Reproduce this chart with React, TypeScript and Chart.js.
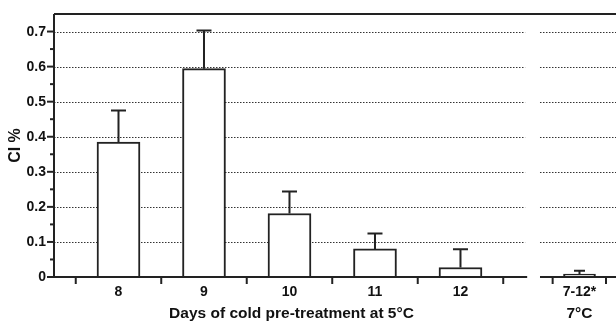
import React, { useEffect, useRef } from "react";
import { Chart, registerables } from "chart.js";

Chart.register(...registerables);

const categories = ["8", "9", "10", "11", "12"];
const values = [0.385, 0.594, 0.181, 0.08, 0.027];
const errors = [0.09, 0.109, 0.063, 0.044, 0.052];

const sideCategories = ["7-12*"];
const sideValues = [0.0085];
const sideErrors = [0.0095];

const yTicks = [0, 0.1, 0.2, 0.3, 0.4, 0.5, 0.6, 0.7];
const yTickLabels = ["0", "0.1", "0.2", "0.3", "0.4", "0.5", "0.6", "0.7"];
const yMinorTicks = [0.05, 0.15, 0.25, 0.35, 0.45, 0.55, 0.65];

const xTitle = "Days of cold pre-treatment at 5°C";
const sideTitle = "7°C";
const yTitle = "CI %";

// layout (positions on the linear x scale)
const X_MIN = 0.2456;
const X_MAX = 6.819;
const MAIN_AXIS_END = 5.78;
const SIDE_AXIS_START = 5.93;
const SIDE_POS = [6.392];
const SIDE_TICKS = [6.078, 6.702];

const INK = "#222";
const FONT = "'Liberation Sans', Arial, Helvetica, sans-serif";

export default function App() {
  const ref = useRef<HTMLCanvasElement>(null);

  useEffect(() => {
    document.body.style.margin = "0";
    const canvas = ref.current!;

    const customPlugin = {
      id: "custom",
      beforeDatasetsDraw(chart: any) {
        const { ctx, chartArea } = chart;
        const xs = chart.scales.x;
        const ys = chart.scales.y;
        ctx.save();
        ctx.strokeStyle = "#333";
        ctx.lineWidth = 1;
        ctx.setLineDash([1.5, 1.5]);
        const mainEnd = xs.getPixelForValue(MAIN_AXIS_END) - 2;
        const sideStart = xs.getPixelForValue(SIDE_AXIS_START);
        yTicks.forEach((v) => {
          if (v === 0) return;
          const y = Math.round(ys.getPixelForValue(v)) + 0.5;
          ctx.beginPath();
          ctx.moveTo(chartArea.left, y);
          ctx.lineTo(mainEnd, y);
          ctx.moveTo(sideStart, y);
          ctx.lineTo(chartArea.right, y);
          ctx.stroke();
        });
        ctx.restore();
      },
      afterDatasetsDraw(chart: any) {
        const { ctx, chartArea } = chart;
        const xs = chart.scales.x;
        const ys = chart.scales.y;
        ctx.save();
        ctx.strokeStyle = INK;
        ctx.lineWidth = 2;
        ctx.setLineDash([]);

        const drawErr = (x: number, v: number, e: number, cap: number) => {
          const px = xs.getPixelForValue(x);
          const y0 = ys.getPixelForValue(v);
          const y1 = ys.getPixelForValue(v + e);
          ctx.beginPath();
          ctx.moveTo(px, y0);
          ctx.lineTo(px, y1);
          ctx.moveTo(px - cap / 2, y1);
          ctx.lineTo(px + cap / 2, y1);
          ctx.stroke();
        };
        values.forEach((v, i) => drawErr(i + 1, v, errors[i], 15));
        sideValues.forEach((v, i) => drawErr(SIDE_POS[i], v, sideErrors[i], 11));

        const y0 = ys.getPixelForValue(0);
        const left = chartArea.left;
        ctx.beginPath();
        ctx.moveTo(left, chartArea.top);
        ctx.lineTo(chartArea.right, chartArea.top);
        ctx.stroke();
        ctx.beginPath();
        ctx.moveTo(left, chartArea.top);
        ctx.lineTo(left, y0 + 1);
        ctx.stroke();
        ctx.beginPath();
        ctx.moveTo(left - 7, y0);
        ctx.lineTo(xs.getPixelForValue(MAIN_AXIS_END), y0);
        ctx.moveTo(xs.getPixelForValue(SIDE_AXIS_START), y0);
        ctx.lineTo(chartArea.right, y0);
        ctx.stroke();

        yTicks.forEach((v) => {
          const y = ys.getPixelForValue(v);
          ctx.beginPath();
          ctx.moveTo(left - 7, y);
          ctx.lineTo(left, y);
          ctx.stroke();
        });
        yMinorTicks.forEach((v) => {
          const y = ys.getPixelForValue(v);
          ctx.beginPath();
          ctx.moveTo(left - 4, y);
          ctx.lineTo(left, y);
          ctx.stroke();
        });
        const xTickVals = [0.5, 1.5, 2.5, 3.5, 4.5, 5.5, ...SIDE_TICKS];
        xTickVals.forEach((v) => {
          const x = xs.getPixelForValue(v);
          ctx.beginPath();
          ctx.moveTo(x, y0);
          ctx.lineTo(x, y0 + 7);
          ctx.stroke();
        });

        ctx.fillStyle = "#111";
        ctx.font = `bold 14px ${FONT}`;
        ctx.textAlign = "right";
        ctx.textBaseline = "middle";
        yTicks.forEach((v, i) => {
          ctx.fillText(yTickLabels[i], left - 8, ys.getPixelForValue(v) + 0.5);
        });
        ctx.textAlign = "center";
        categories.forEach((c, i) => {
          ctx.fillText(c, xs.getPixelForValue(i + 1), y0 + 15);
        });
        sideCategories.forEach((c, i) => {
          ctx.fillText(c, xs.getPixelForValue(SIDE_POS[i]), y0 + 15);
        });
        ctx.font = `bold 15.5px ${FONT}`;
        ctx.fillText(xTitle, (xs.getPixelForValue(1) + xs.getPixelForValue(5)) / 2 + 2, y0 + 37);
        ctx.fillText(sideTitle, xs.getPixelForValue(SIDE_POS[0]), y0 + 37);

        ctx.font = `bold 16px ${FONT}`;
        ctx.save();
        ctx.translate(16, (chartArea.top + y0) / 2);
        ctx.rotate(-Math.PI / 2);
        ctx.fillText(yTitle, 0, 0);
        ctx.restore();

        ctx.restore();
      },
    };

    const chart = new Chart(canvas, {
      type: "bar",
      data: {
        datasets: [
          {
            data: values.map((v, i) => ({ x: i + 1, y: v })),
            backgroundColor: "#fff",
            borderColor: INK,
            borderWidth: 2,
            barThickness: 43,
            grouped: false,
          } as any,
          {
            data: sideValues.map((v, i) => ({ x: SIDE_POS[i], y: v })),
            backgroundColor: "#fff",
            borderColor: INK,
            borderWidth: 2,
            barThickness: 32,
            grouped: false,
          } as any,
        ],
      },
      options: {
        responsive: false,
        animation: false,
        layout: { padding: { left: 54, right: 0, top: 14, bottom: 46 } },
        plugins: { legend: { display: false }, tooltip: { enabled: false } },
        scales: {
          x: { type: "linear", min: X_MIN, max: X_MAX, offset: false, display: false },
          y: { type: "linear", min: 0, max: 0.75, display: false },
        },
      },
      plugins: [customPlugin],
    });
    return () => chart.destroy();
  }, []);

  return <canvas ref={ref} width={616} height={323} style={{ display: "block" }} />;
}
